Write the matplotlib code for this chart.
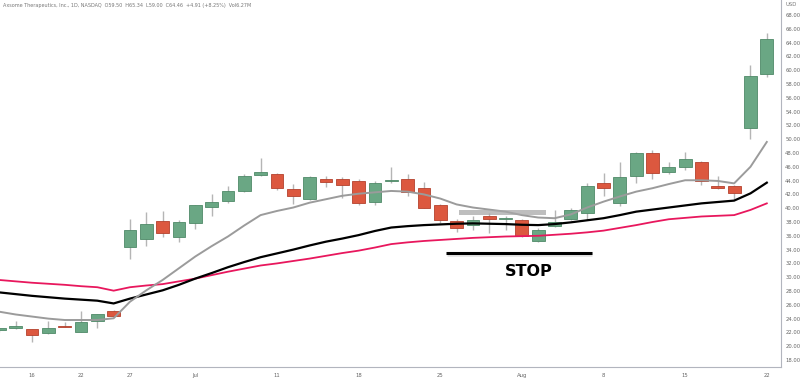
import pandas as pd
import numpy as np
import matplotlib
matplotlib.use('Agg')
import matplotlib.pyplot as plt

# trading days, Jun 14 .. Aug 22 2022 (Juneteenth and Jul 4 closed)
days = pd.bdate_range('2022-06-14', '2022-08-22')
days = days[~days.isin(pd.to_datetime(['2022-06-20', '2022-07-04']))]

opens = [22.3, 22.6, 22.45, 21.9, 23.0, 22.1, 23.7, 25.05, 34.4, 35.6, 38.2, 35.8,
         37.9, 40.2, 41.1, 42.5, 44.8, 44.9, 42.8, 41.3, 44.3, 44.2, 43.9, 40.95,
         43.9, 44.2, 43.0, 40.45, 38.15, 37.5, 38.9, 38.45, 38.3, 35.3, 37.4, 38.4,
         39.25, 43.6, 40.7, 44.65, 48.05, 45.3, 46.0, 46.7, 43.2, 43.2, 51.6, 59.5]
highs = [22.7, 23.6, 22.5, 23.6, 23.5, 25.15, 24.7, 25.2, 38.5, 39.5, 39.65, 38.3,
         40.5, 42.05, 43.2, 44.9, 47.3, 45.1, 43.5, 44.7, 44.6, 44.5, 44.2, 44.0,
         46.0, 45.0, 43.8, 40.6, 38.5, 38.9, 39.25, 38.9, 38.5, 37.1, 39.7, 40.0,
         43.7, 45.05, 46.75, 48.1, 48.5, 46.75, 48.2, 46.9, 44.65, 43.4, 60.8, 65.34]
lows = [22.1, 22.5, 20.6, 21.7, 22.8, 22.0, 22.7, 24.2, 32.6, 34.5, 35.8, 35.1,
        37.0, 38.9, 40.8, 42.3, 44.6, 42.6, 40.6, 41.2, 43.1, 41.5, 40.5, 40.5,
        43.7, 41.8, 40.0, 37.8, 36.6, 36.8, 36.4, 36.9, 35.9, 35.15, 37.3, 38.3,
        38.3, 41.7, 40.3, 43.6, 44.3, 44.95, 45.5, 43.35, 42.8, 41.3, 50.1, 59.0]
closes = [22.6, 23.0, 21.6, 22.6, 22.85, 23.55, 24.6, 24.4, 36.8, 37.75, 36.4, 38.0,
          40.4, 40.95, 42.5, 44.7, 45.2, 43.0, 41.8, 44.5, 43.8, 43.35, 40.7, 43.7,
          44.1, 42.3, 40.1, 38.3, 37.2, 38.3, 38.4, 38.6, 35.95, 36.9, 37.95, 39.75,
          43.2, 43.0, 44.5, 48.05, 45.05, 45.95, 47.1, 43.9, 42.9, 42.15, 59.2, 64.46]

ma_gray = [25.0, 24.6, 24.3, 24.0, 23.8, 23.8, 23.8, 24.05, 26.45, 28.1, 29.6, 31.3,
           33.0, 34.5, 35.9, 37.5, 39.0, 39.6, 40.1, 40.8, 41.3, 41.8, 42.1, 42.3,
           42.5, 42.4, 42.0, 41.4, 40.55, 40.1, 39.8, 39.5, 39.0, 38.65, 38.55, 39.1,
           40.1, 40.95, 41.7, 42.4, 42.9, 43.5, 44.05, 44.05, 43.95, 43.6, 46.0, 49.6]
ma_black = [27.8, 27.55, 27.3, 27.1, 26.9, 26.75, 26.6, 26.2, 26.9, 27.5, 28.1, 28.9,
            29.8, 30.6, 31.45, 32.2, 32.9, 33.45, 34.0, 34.6, 35.15, 35.6, 36.1, 36.7,
            37.2, 37.4, 37.55, 37.65, 37.75, 37.8, 37.75, 37.7, 37.6, 37.55, 37.7, 37.95,
            38.25, 38.55, 39.0, 39.5, 39.8, 40.1, 40.4, 40.7, 40.9, 41.1, 42.15, 43.7]
ma_pink = [29.6, 29.4, 29.2, 29.05, 28.9, 28.7, 28.55, 28.05, 28.55, 28.8, 29.0, 29.4,
           29.8, 30.3, 30.8, 31.25, 31.7, 32.0, 32.35, 32.7, 33.1, 33.5, 33.85, 34.3,
           34.8, 35.05, 35.25, 35.4, 35.55, 35.7, 35.8, 35.9, 35.95, 36.0, 36.15, 36.3,
           36.5, 36.75, 37.15, 37.55, 38.0, 38.4, 38.6, 38.8, 38.9, 39.0, 39.75, 40.7]

tick_dates = ['2022-06-16', '2022-06-22', '2022-06-27', '2022-07-01', '2022-07-11',
              '2022-07-18', '2022-07-25', '2022-08-01', '2022-08-08', '2022-08-15',
              '2022-08-22']
tick_labels = ['16', '22', '27', 'Jul', '11', '18', '25', 'Aug', '8', '15', '22']

title = ('Axsome Therapeutics, Inc., 1D, NASDAQ  O59.50  H65.34  L59.00  '
         'C64.46  +4.91 (+8.25%)  Vol6.27M')

df = pd.DataFrame({'o': opens, 'h': highs, 'l': lows, 'c': closes}, index=days)
x = np.arange(len(df))

fig = plt.figure(figsize=(8.01, 3.82), dpi=100)
ax = fig.add_axes([0, 15 / 382, 781 / 801, 367 / 382])

up = (df['c'] >= df['o']).values
green, green_edge = '#6aa784', '#4f8a68'
red, red_edge = '#dc583f', '#b4412d'

ax.vlines(x, df['l'], df['h'], color='#b5b5b5', lw=1, zorder=2)
body_lo = np.minimum(df['o'], df['c']).values
body_h = np.maximum((df['c'] - df['o']).abs(), 0.12).values
ax.bar(x[up], body_h[up], bottom=body_lo[up], width=0.78, color=green,
       edgecolor=green_edge, lw=0.6, zorder=3)
ax.bar(x[~up], body_h[~up], bottom=body_lo[~up], width=0.78, color=red,
       edgecolor=red_edge, lw=0.6, zorder=3)

ax.plot(x, ma_pink, color='#e8175d', lw=1.3, zorder=4)
ax.plot(x, ma_black, color='black', lw=1.6, zorder=4)
ax.plot(x, ma_gray, color='#9b9b9b', lw=1.4, zorder=4)

# annotations (x in bar index, Jun 14 = 0)
ax.fill_between([28.15, 33.5], 39.0, 39.75, color='#a8a8a8', alpha=0.75, lw=0, zorder=5)
ax.plot([27.4, 36.3], [33.3, 33.3], color='#999999', lw=3.5, alpha=0.25,
        solid_capstyle='butt', zorder=5)
ax.plot([27.35, 36.3], [33.55, 33.55], color='black', lw=2.2,
        solid_capstyle='butt', zorder=6)
ax.text(32.45, 30.8, 'STOP', fontsize=11.5, fontweight='bold', ha='center',
        va='center', family='DejaVu Sans', zorder=6)

ax.set_xlim(0.04, 47.87)
ax.set_ylim(16.99, 70.17)

ax.yaxis.tick_right()
ax.set_yticks(np.arange(18, 69, 2))
ax.set_yticklabels([f'{v:.2f}' for v in np.arange(18, 69, 2)])
pos = [df.index.get_loc(pd.Timestamp(d)) for d in tick_dates]
ax.set_xticks(pos)
ax.set_xticklabels(tick_labels)
ax.tick_params(axis='both', length=0, labelsize=3.8, colors='#666666')
ax.tick_params(axis='y', pad=3)
ax.tick_params(axis='x', pad=4)

for s in ['top', 'left']:
    ax.spines[s].set_visible(False)
for s in ['right', 'bottom']:
    ax.spines[s].set_color('#b2b5be')
    ax.spines[s].set_linewidth(0.8)

fig.text(3 / 801, 1 - 6 / 382, title, fontsize=3.5, color='#777777', va='center',
         family='Liberation Sans Narrow')
fig.text(785 / 801, 1 - 5 / 382, 'USD', fontsize=3.8, color='#777777', va='center')

fig.savefig('out.png', dpi=100)
